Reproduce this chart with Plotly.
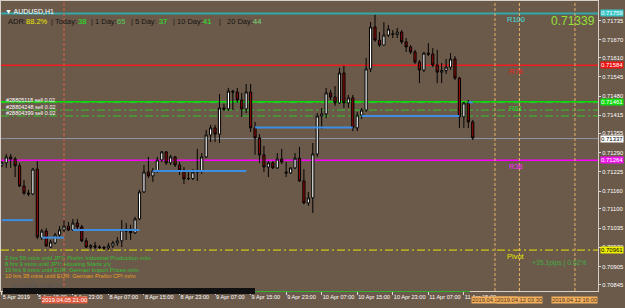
import plotly.graph_objects as go

# ---------------- data ----------------
bar_index = list(range(107))
open_ = [0.71245,0.71255,0.71275,0.71268,0.71245,0.71177,0.71153,0.71150,0.71234,0.71002,
         0.71025,0.70971,0.70985,0.71012,0.71029,0.71042,0.71029,0.71052,0.71039,0.70992,
         0.70971,0.70975,0.70971,0.70970,0.70968,0.70975,0.70985,0.70992,0.71029,0.71025,
         0.71019,0.71066,0.71157,0.71224,0.71211,0.71228,0.71265,0.71292,0.71255,0.71275,
         0.71248,0.71231,0.71201,0.71202,0.71224,0.71228,0.71275,0.71349,0.71373,0.71352,
         0.71440,0.71437,0.71497,0.71494,0.71467,0.71437,0.71494,0.71373,0.71339,0.71282,
         0.71241,0.71255,0.71238,0.71268,0.71224,0.71221,0.71238,0.71271,0.71194,0.71120,
         0.71137,0.71285,0.71413,0.71420,0.71491,0.71477,0.71457,0.71558,0.71457,0.71474,
         0.71373,0.71416,0.71433,0.71572,0.71713,0.71669,0.71652,0.71686,0.71690,0.71688,
         0.71696,0.71663,0.71646,0.71629,0.71595,0.71568,0.71625,0.71622,0.71585,0.71561,
         0.71566,0.71578,0.71605,0.71541,0.71410,0.71457,0.71393]
high = [0.71261,0.71285,0.71285,0.71275,0.71255,0.71197,0.71164,0.71238,0.71261,0.71032,
        0.71035,0.70995,0.71019,0.71042,0.71062,0.71056,0.71066,0.71066,0.71046,0.71002,
        0.70981,0.70988,0.70978,0.70975,0.70985,0.70992,0.71005,0.71062,0.71052,0.71046,
        0.71073,0.71164,0.71248,0.71275,0.71238,0.71275,0.71295,0.71295,0.71282,0.71278,
        0.71258,0.71241,0.71231,0.71234,0.71302,0.71288,0.71366,0.71383,0.71383,0.71487,
        0.71454,0.71508,0.71501,0.71508,0.71491,0.71521,0.71521,0.71393,0.71352,0.71312,
        0.71261,0.71261,0.71288,0.71302,0.71258,0.71238,0.71288,0.71309,0.71234,0.71157,
        0.71322,0.71423,0.71440,0.71508,0.71501,0.71514,0.71575,0.71582,0.71484,0.71484,
        0.71427,0.71440,0.71609,0.71730,0.71754,0.71696,0.71730,0.71720,0.71703,0.71710,
        0.71703,0.71676,0.71652,0.71636,0.71602,0.71629,0.71659,0.71642,0.71636,0.71592,
        0.71605,0.71625,0.71615,0.71545,0.71460,0.71467,0.71400]
low = [0.71241,0.71238,0.71238,0.71207,0.71174,0.71147,0.71143,0.71147,0.70998,0.70995,
       0.70971,0.70968,0.70981,0.71005,0.71022,0.71025,0.71025,0.71032,0.70988,0.70968,
       0.70965,0.70965,0.70965,0.70961,0.70961,0.70968,0.70975,0.70971,0.70995,0.70995,
       0.71015,0.71062,0.71153,0.71204,0.71191,0.71221,0.71258,0.71248,0.71248,0.71241,
       0.71214,0.71184,0.71197,0.71197,0.71194,0.71218,0.71271,0.71325,0.71325,0.71322,
       0.71430,0.71430,0.71433,0.71457,0.71410,0.71423,0.71359,0.71282,0.71255,0.71224,
       0.71207,0.71234,0.71234,0.71251,0.71207,0.71218,0.71234,0.71191,0.71116,0.71110,
       0.71086,0.71275,0.71369,0.71406,0.71467,0.71447,0.71454,0.71440,0.71440,0.71362,
       0.71362,0.71403,0.71427,0.71561,0.71663,0.71646,0.71649,0.71679,0.71676,0.71676,
       0.71656,0.71629,0.71622,0.71588,0.71524,0.71561,0.71615,0.71578,0.71524,0.71524,
       0.71555,0.71568,0.71534,0.71373,0.71373,0.71373,0.71332]
close = [0.71255,0.71275,0.71268,0.71245,0.71177,0.71153,0.71150,0.71234,0.71005,0.71025,
         0.70975,0.70988,0.71012,0.71029,0.71042,0.71029,0.71052,0.71039,0.70992,0.70971,
         0.70975,0.70971,0.70970,0.70968,0.70975,0.70985,0.70992,0.71029,0.71025,0.71019,
         0.71066,0.71157,0.71224,0.71211,0.71228,0.71265,0.71292,0.71255,0.71275,0.71248,
         0.71231,0.71201,0.71202,0.71224,0.71228,0.71275,0.71349,0.71373,0.71352,0.71440,
         0.71437,0.71497,0.71494,0.71467,0.71437,0.71494,0.71373,0.71339,0.71282,0.71241,
         0.71255,0.71238,0.71268,0.71258,0.71221,0.71238,0.71271,0.71194,0.71120,0.71137,
         0.71285,0.71413,0.71420,0.71491,0.71477,0.71457,0.71558,0.71457,0.71474,0.71373,
         0.71416,0.71433,0.71572,0.71713,0.71669,0.71652,0.71686,0.71706,0.71688,0.71696,
         0.71663,0.71646,0.71629,0.71595,0.71568,0.71625,0.71622,0.71585,0.71561,0.71566,
         0.71578,0.71605,0.71541,0.71410,0.71457,0.71393,0.71339]

time_tick_index = [0, 8, 16, 24, 32, 40, 48, 56, 64, 72, 80, 88, 96, 104]
time_tick_labels = ["5 Apr 2019", "5 Apr 15:00", "5 Apr 23:00", "8 Apr 07:00", "8 Apr 15:00",
                    "8 Apr 23:00", "9 Apr 07:00", "9 Apr 15:00", "9 Apr 23:00", "10 Apr 07:00",
                    "10 Apr 15:00", "10 Apr 23:00", "11 Apr 07:00", "11 Apr 15:00"]
price_ticks = [0.71735, 0.71670, 0.71610, 0.71545, 0.71480, 0.71415, 0.71355, 0.71290,
               0.71225, 0.71160, 0.71100, 0.71035, 0.70970, 0.70905, 0.70845]

level_names = ["R100", "R78", "R61", "R38", "Pivot"]
level_prices = [0.71759, 0.71584, 0.71461, 0.71264, 0.70961]
bid_price = 0.71337
last_price = 0.71339

trade_labels = ["#28805118 sell 0.02", "#28804248 sell 0.02", "#28804399 sell 0.02"]
trade_prices = [0.71458, 0.71433, 0.71413]

blue_start = [0, 9, 16, 34, 57, 81, 105]
blue_end = [7, 14, 31, 55, 79, 103, 106]
blue_price = [0.71062, 0.71003, 0.71029, 0.71228, 0.71374, 0.71413, 0.71459]

vline_index = [14, 111, 116.5, 129]
vline_labels = ["2019.04.05 21:00", "2019.04.11 22:00", "2019.04.12 03:30", "2019.04.12 16:00"]

adr_texts = ["ADR:", "88.2%", "| Today:", "38", "| 1 Day:", "65", "| 5 Day:", "37",
             "| 10 Day:", "41", "|", "20 Day:", "44"]
event_texts = ["2 hrs 59 mins until JPY: Prelim Industrial Production m/m",
               "8 hrs 9 mins until JPY: Housing Starts y/y",
               "10 hrs 9 mins until EUR: German Import Prices m/m",
               "10 hrs 38 mins until EUR: German Prelim CPI m/m"]
pips_text = "+35.1pips | 0.62%"

# ---------------- styling / geometry ----------------
W, H = 625, 308
ML, MR, MT, MB = 1, 27, 1, 17
PW, PH = W - ML - MR, H - MT - MB
BG = "#6b5a4a"
FONT = "Liberation Sans"
X0_PX, PX_PER_BAR = 1.8, 4.443
xmin = -(X0_PX - ML) / PX_PER_BAR
xmax = xmin + PW / PX_PER_BAR
ymax = 0.718008
ymin = ymax - PH / 29658.0


def fx(px):
    return (px - ML) / PW


def fy(py):
    return (MT + PH - py) / PH


fig = go.Figure()

# blue segments
bx, by = [], []
for s, e, p in zip(blue_start, blue_end, blue_price):
    bx += [s, e, None]
    by += [p, p, None]
fig.add_trace(go.Scatter(x=bx, y=by, mode="lines", line=dict(color="#3d8ee0", width=2),
                         hoverinfo="skip", showlegend=False))

fig.add_trace(go.Candlestick(
    x=bar_index, open=open_, high=high, low=low, close=close,
    increasing=dict(fillcolor="#ffffff", line=dict(color="#000000", width=1)),
    decreasing=dict(fillcolor="#8e0a0a", line=dict(color="#000000", width=1)),
    whiskerwidth=0, showlegend=False, hoverinfo="skip"))

shapes = []
level_colors = ["#33a8a8", "#ee1c1c", "#00e000", "#ff00ff", "#e8e800"]
level_widths = [2, 1.5, 1.5, 1.5, 1]
level_dash = ["solid", "solid", "solid", "solid", "8px,3px,2px,3px"]
for p, c, w, d in zip(level_prices, level_colors, level_widths, level_dash):
    shapes.append(dict(type="line", xref="paper", x0=0, x1=1, yref="y", y0=p, y1=p,
                       line=dict(color=c, width=w, dash=d), layer="below"))
shapes.append(dict(type="line", xref="paper", x0=0, x1=1, yref="y", y0=bid_price, y1=bid_price,
                   line=dict(color="#8a96a6", width=1), layer="below"))
for p in trade_prices:
    shapes.append(dict(type="line", xref="paper", x0=0, x1=1, yref="y", y0=p, y1=p,
                       line=dict(color="#2ec62e", width=1, dash="8px,3px,2px,3px"), layer="below"))
vcolors = ["#e0604a", "#e8b26a", "#e8b26a", "#e8b26a"]
for xi, c in zip(vline_index, vcolors):
    shapes.append(dict(type="line", xref="x", x0=xi, x1=xi, yref="paper", y0=0, y1=1,
                       line=dict(color=c, width=1, dash="3px,2px"), layer="below"))
# events bar
shapes.append(dict(type="rect", xref="paper", yref="paper", x0=fx(3), x1=fx(255), y0=fy(294), y1=fy(288),
                   fillcolor="#111111", line=dict(width=0), layer="above"))
shapes.append(dict(type="line", xref="paper", yref="paper", x0=fx(255), x1=fx(470), y0=fy(291.5), y1=fy(291.5),
                   line=dict(color="#30b030", width=1), layer="above"))

ann = []
# level labels
label_colors = ["#40e0e0", "#ee1c1c", "#22dd22", "#ff22ff", "#e8e800"]
for n, p, c in zip(level_names, level_prices, label_colors):
    ann.append(dict(x=115.7, y=p, xref="x", yref="y", text=n, showarrow=False, yanchor="top", yshift=0,
                    font=dict(family=FONT, size=7.5, color=c)))
# price boxes on the right axis
box_prices = [level_prices[0], level_prices[1], level_prices[2], bid_price, level_prices[3], level_prices[4]]
box_bg = ["#3cc8c8", "#ee1111", "#11dd11", "#ffffff", "#ee11ee", "#f0f000"]
box_fg = ["#ffffff", "#ffffff", "#ffffff", "#000000", "#ffffff", "#000000"]
for p, b, f in zip(box_prices, box_bg, box_fg):
    ann.append(dict(x=1, y=p, xref="paper", yref="y", xanchor="left", xshift=2, text=f"{p:.5f}",
                    showarrow=False, bgcolor=b, borderpad=0,
                    font=dict(family=FONT, size=6, color=f)))
# trade labels
for t, p in zip(trade_labels, trade_prices):
    ann.append(dict(x=fx(4), y=p, xref="paper", yref="y", xanchor="left", yanchor="bottom", yshift=-2,
                    text=t, showarrow=False, font=dict(family=FONT, size=5.5, color="#ffffff")))
# header
ann.append(dict(x=fx(3), y=fy(6), xref="paper", yref="paper", xanchor="left", text="▼ AUDUSD,H1",
                showarrow=False, font=dict(family=FONT, size=7, color="#ffffff")))
adr_x = [6, 24, 49, 76, 89, 115, 129, 157, 171, 201, 217, 225, 251]
adr_c = ["#141414", "#e6e600", "#141414", "#22ee22", "#141414", "#55cc55", "#141414", "#22ee22",
         "#141414", "#22ee22", "#141414", "#141414", "#77dd77"]
for t, x, c in zip(adr_texts, adr_x, adr_c):
    ann.append(dict(x=fx(x), y=fy(15), xref="paper", yref="paper", xanchor="left", text=t,
                    showarrow=False, font=dict(family=FONT, size=7.5, color=c)))
ann.append(dict(x=fx(597), y=fy(12), xref="paper", yref="paper", xanchor="right", text=f"{last_price:.5f}",
                showarrow=False, font=dict(family=FONT, size=12, color="#92e038")))
ann.append(dict(x=fx(530), y=fy(269), xref="paper", yref="paper", xanchor="left", text=pips_text,
                showarrow=False, font=dict(family=FONT, size=6.8, color="#44aa44")))
ev_y = [262.5, 268.7, 274.8, 281.2]
ev_c = ["#33c033", "#33c033", "#33c033", "#e8a020"]
for t, y, c in zip(event_texts, ev_y, ev_c):
    ann.append(dict(x=fx(3), y=fy(y), xref="paper", yref="paper", xanchor="left", text=t,
                    showarrow=False, font=dict(family=FONT, size=5.8, color=c)))
ann.append(dict(x=fx(10), y=fy(291), xref="paper", yref="paper", xanchor="left", text="NO MORE EVENTS",
                showarrow=False, font=dict(family=FONT, size=5.5, color="#555555")))
# time boxes on x axis
tb_bg = ["#e05a40", "#f0b060", "#f0b060", "#f0b060"]
tb_fg = ["#ffffff", "#5a3010", "#5a3010", "#5a3010"]
for xi, t, b, f in zip(vline_index, vline_labels, tb_bg, tb_fg):
    ann.append(dict(x=xi, y=0, xref="x", yref="paper", yanchor="top", yshift=-5, text=t,
                    showarrow=False, bgcolor=b, borderpad=0,
                    font=dict(family=FONT, size=5.8, color=f)))

fig.update_layout(
    width=W, height=H, margin=dict(l=ML, r=MR, t=MT, b=MB, autoexpand=False),
    paper_bgcolor=BG, plot_bgcolor=BG, showlegend=False,
    shapes=shapes, annotations=ann,
    xaxis=dict(range=[xmin, xmax], rangeslider=dict(visible=False), showgrid=False, zeroline=False,
               tickvals=time_tick_index, ticktext=time_tick_labels, ticklabelposition="outside right",
               tickangle=0, automargin=False,
               ticks="outside", ticklen=3, tickcolor="#dddddd",
               tickfont=dict(family=FONT, size=5.6, color="#ffffff"),
               showline=True, mirror=True, linecolor="#d8d0c8", linewidth=1),
    yaxis=dict(range=[ymin, ymax], side="right", showgrid=False, zeroline=False, automargin=False,
               tickvals=price_ticks, ticktext=[f"{v:.5f}" for v in price_ticks],
               ticks="outside", ticklen=2, tickcolor="#dddddd",
               tickfont=dict(family=FONT, size=5.8, color="#ffffff"),
               showline=True, mirror=True, linecolor="#d8d0c8", linewidth=1),
)

fig.write_html("out.html", config={"displayModeBar": False})
